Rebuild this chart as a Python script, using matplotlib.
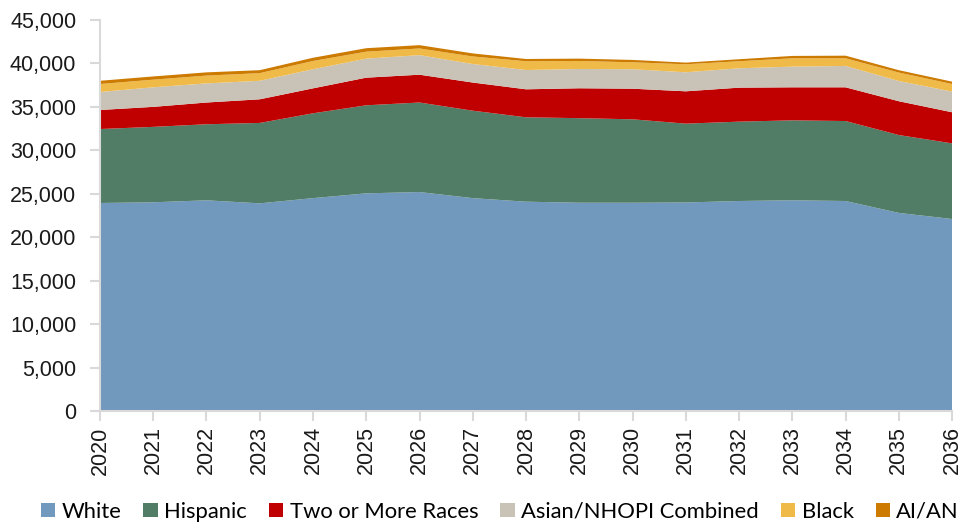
import matplotlib.pyplot as plt
from matplotlib.ticker import FuncFormatter

years = list(range(2020, 2037))
groups = ["White", "Hispanic", "Two or More Races", "Asian/NHOPI Combined", "Black", "AI/AN"]
colors = ["#7198bd", "#517d66", "#c00000", "#c9c3b7", "#f0ba48", "#cc7a00"]

white = [23940, 24020, 24250, 23900, 24500, 25050, 25200, 24500, 24090, 23970, 23970, 24000, 24170, 24250, 24170, 22800, 22100]
hispanic = [8510, 8680, 8750, 9250, 9760, 10130, 10300, 10060, 9710, 9730, 9600, 9070, 9130, 9200, 9200, 8960, 8700]
two_or_more = [2190, 2300, 2500, 2720, 2870, 3180, 3200, 3240, 3220, 3440, 3520, 3720, 3910, 3800, 3880, 3890, 3580]
asian_nhopi = [2070, 2250, 2200, 2130, 2200, 2190, 2250, 2130, 2220, 2220, 2240, 2190, 2230, 2380, 2460, 2330, 2380]
black = [920, 880, 900, 880, 950, 800, 770, 870, 1010, 920, 800, 920, 810, 960, 880, 970, 870]
ai_an = [370, 370, 370, 340, 370, 400, 380, 350, 260, 270, 270, 190, 230, 270, 300, 270, 270]

series = [white, hispanic, two_or_more, asian_nhopi, black, ai_an]

fig = plt.figure(figsize=(9.65, 5.25), dpi=100)
ax = fig.add_axes([0.1036, 0.217, 0.883, 0.745])

ax.stackplot(years, *series, colors=colors, labels=groups, linewidth=0)

ax.set_xlim(2020, 2036)
ax.set_ylim(0, 45000)
ax.set_xticks(years)
ax.set_xticklabels([str(y) for y in years], rotation=90, fontsize=15.5, family="Liberation Sans")
ax.set_yticks(range(0, 45001, 5000))
ax.yaxis.set_major_formatter(FuncFormatter(lambda v, _: f"{int(v):,}"))
for lbl in ax.get_yticklabels():
    lbl.set_family("Liberation Sans")
    lbl.set_fontsize(15.5)

for side in ("top", "right"):
    ax.spines[side].set_visible(False)
for side in ("left", "bottom"):
    ax.spines[side].set_color("#d9d9d9")
    ax.spines[side].set_linewidth(1.5)
ax.tick_params(axis="both", colors="#d9d9d9", labelcolor="#1a1a1a", length=7, width=1.5)
ax.tick_params(axis="y", pad=10)
ax.tick_params(axis="x", pad=4)

leg = ax.legend(loc="center", bbox_to_anchor=(0.518, 0.025), bbox_transform=fig.transFigure,
                ncol=6, frameon=False, handlelength=0.65, handleheight=0.65, handletextpad=0.3,
                columnspacing=1.0, borderaxespad=0, borderpad=0,
                prop={"family": "Lato", "size": 15.8})

fig.savefig("out.png", dpi=100)
